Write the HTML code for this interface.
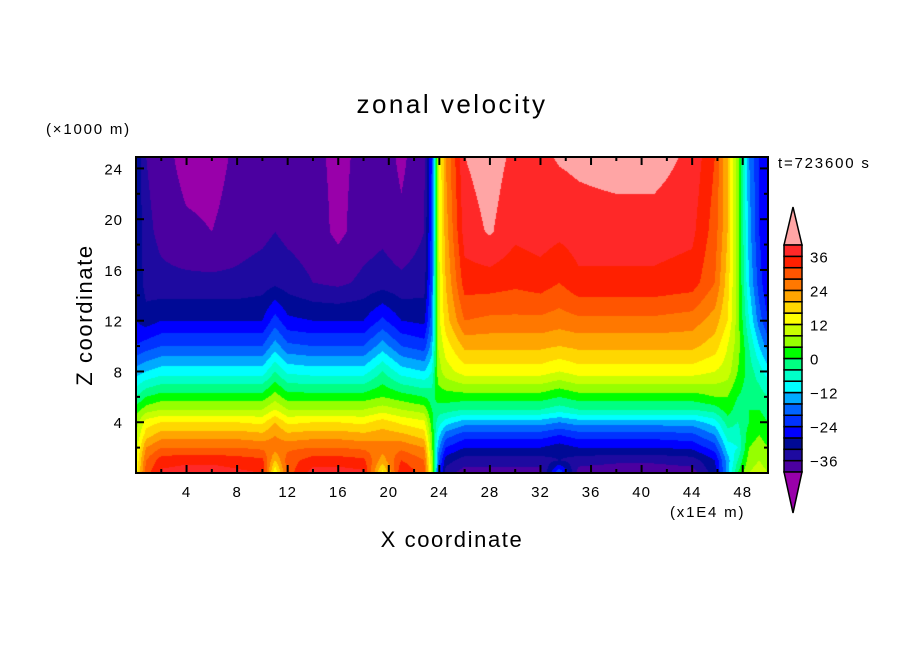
<!DOCTYPE html>
<html><head><meta charset="utf-8"><style>
body{margin:0;background:#fff;width:904px;height:654px;overflow:hidden;position:relative;font-family:"Liberation Sans",sans-serif}
#cv{position:absolute;left:136px;top:157px}
svg{position:absolute;left:0;top:0}
</style></head><body>
<canvas id="cv" width="632" height="316"></canvas>
<svg id="sv" width="904" height="654">
<text x="452" y="113" font-size="26" letter-spacing="2.5" text-anchor="middle">zonal velocity</text>
<text x="46" y="134" font-size="15" letter-spacing="1.8">(×1000 m)</text>
<text x="778" y="168" font-size="15" letter-spacing="1.8">t=723600 s</text>
<text x="670" y="517" font-size="15" letter-spacing="1.8">(x1E4 m)</text>
<text x="452" y="547" font-size="22" letter-spacing="1.6" text-anchor="middle">X coordinate</text>
<text transform="translate(92,315) rotate(-90)" font-size="22" letter-spacing="1.6" text-anchor="middle">Z coordinate</text>
<g id="axes"></g><g id="cbar"></g>
</svg>
<script>
const levels=[-40,-36,-32,-28,-24,-20,-16,-12,-8,-4,0,4,8,12,16,20,24,28,32,36,40];
const colors=["#9900aa","#4b00a0","#1e0aa0","#000a96","#0000ff","#0032ff","#0064ff","#00aaff","#00ffff","#00ffc8","#00ff82","#00ff00","#96ff00","#c8ff00","#ffff00","#ffd700","#ffa500","#ff7800","#ff5500","#ff2000","#ff2828","#ffa5a5"];
const xTicks=[4,8,12,16,20,24,28,32,36,40,44,48];
const zTicks=[4,8,12,16,20,24];
const cbarLabels=[36,24,12,0,-12,-24,-36];
const zs=[0,1,2,3,4,5,6,8,10,12,15,19,25];
const xs=[0,0.8,2,4,6,8,10,11,12,14,16,18,19.5,21,22.8,23.4,23.9,24.5,26,28,30,32,33.5,35,38,41,44,45.8,46.8,47.6,48.5,49.3,50];
const cols=[
[14,12,10,8,6,2,-4,-14,-24,-28,-28,-28,-28],
[30,28,24,18,14,6,0,-12,-22,-30,-34,-35,-36],
[37,34,28,22,16,8,2,-10,-20,-28,-35,-37,-38],
[38,35,28,22,16,8,2,-10,-20,-28,-35,-39,-42],
[38,35,28,22,16,8,2,-10,-20,-28,-35,-40,-42],
[37,34,28,22,16,8,2,-10,-20,-28,-35,-38,-39],
[36,33,27,21,15,8,2,-10,-20,-28,-34,-37,-38],
[12,20,26,24,20,12,6,-4,-14,-22,-33,-36,-38],
[30,30,27,21,15,8,2,-9,-19,-27,-34,-37,-39],
[38,34,28,22,16,8,2,-10,-20,-28,-36,-38,-39],
[38,34,28,22,16,8,2,-10,-20,-28,-37,-41,-41],
[37,33,27,21,15,8,2,-10,-20,-28,-35,-38,-39],
[14,22,26,22,18,10,4,-4,-14,-23,-34,-37,-38],
[36,32,27,21,15,8,2,-10,-20,-28,-35,-39,-41],
[30,28,24,18,13,6,0,-12,-22,-29,-34,-36,-37],
[10,8,6,4,2,0,-2,-8,-14,-18,-20,-22,-24],
[-20,-18,-14,-10,-6,-2,2,6,8,10,10,10,10],
[-34,-30,-24,-18,-10,-2,2,10,14,18,20,22,24],
[-38,-34,-28,-22,-14,-4,2,14,21,28,34,38,40],
[-38,-34,-28,-22,-14,-4,2,14,21,27,34,40.5,42],
[-38,-34,-28,-22,-14,-4,2,14,21,27,33,37,39],
[-38,-34,-28,-22,-14,-4,2,14,21,27,34,38,39],
[-20,-32,-30,-24,-16,-6,0,12,20,26,32,37,40.5],
[-38,-34,-28,-22,-14,-4,2,14,21,27,35,38,41],
[-39,-35,-28,-22,-14,-4,2,14,21,27,35,38,42],
[-39,-35,-28,-22,-14,-4,2,14,21,27,35,38,42],
[-38,-34,-27,-21,-14,-4,2,14,21,26,34,37,39],
[-30,-28,-22,-16,-10,-2,4,12,18,22,28,30,32],
[-14,-14,-10,-6,-2,2,4,10,12,16,18,20,20],
[0,-4,-8,-6,-4,-2,0,4,6,6,6,6,6],
[8,6,4,2,0,0,-2,-2,-4,-8,-12,-14,-16],
[10,8,6,4,2,0,-2,-6,-12,-18,-22,-24,-24],
[8,6,4,2,0,-2,-4,-10,-18,-24,-28,-28,-28]];
const X0=136,X1=768,Y0=157,Y1=473,XMAX=50,ZMAX=24.9;
const sx=x=>X0+(X1-X0)*x/XMAX, sz=z=>Y1-(Y1-Y0)*z/ZMAX;
function idx(a,v){let i=0;while(i<a.length-2&&v>a[i+1])i++;return i;}
function val(x,z){const i=idx(xs,x),j=idx(zs,z);const tx=Math.min(1,Math.max(0,(x-xs[i])/(xs[i+1]-xs[i]))),tz=Math.min(1,Math.max(0,(z-zs[j])/(zs[j+1]-zs[j])));
return (cols[i][j]*(1-tx)+cols[i+1][j]*tx)*(1-tz)+(cols[i][j+1]*(1-tx)+cols[i+1][j+1]*tx)*tz;}
function colorOf(v){let k=0;while(k<levels.length&&v>=levels[k])k++;return colors[k];}
const cv=document.getElementById('cv'),ctx=cv.getContext('2d');
const W=cv.width,H=cv.height;
for(let py=0;py<H;py++)for(let px=0;px<W;px++){
 const x=(px+0.5)/W*XMAX,z=(H-py-0.5)/H*ZMAX;
 ctx.fillStyle=colorOf(val(x,z));ctx.fillRect(px,py,1,1);}
const NS='http://www.w3.org/2000/svg';
function mk(t,a,p){const e=document.createElementNS(NS,t);for(const k in a)e.setAttribute(k,a[k]);p.appendChild(e);return e;}
const ax=document.getElementById('axes');
const frame=mk('rect',{x:X0,y:Y0,width:X1-X0,height:Y1-Y0,fill:'none',stroke:'#000','stroke-width':2},ax);


for(let x=2;x<XMAX;x+=2){const L=x%4?4:8;
 mk('line',{x1:sx(x),x2:sx(x),y1:Y1,y2:Y1-L,stroke:'#000','stroke-width':2},ax);
 mk('line',{x1:sx(x),x2:sx(x),y1:Y0,y2:Y0+L,stroke:'#000','stroke-width':2},ax);}
for(let z=2;z<ZMAX;z+=2){const L=z%4?4:8;
 mk('line',{x1:X0,x2:X0+L,y1:sz(z),y2:sz(z),stroke:'#000','stroke-width':2},ax);
 mk('line',{x1:X1,x2:X1-L,y1:sz(z),y2:sz(z),stroke:'#000','stroke-width':2},ax);}
xTicks.forEach(v=>{const t=mk('text',{x:sx(v),y:497,'font-size':15,'letter-spacing':1,'text-anchor':'middle'},ax);t.textContent=v;
 
 });
zTicks.forEach(v=>{const t=mk('text',{x:123,y:sz(v)+6,'font-size':15,'letter-spacing':1,'text-anchor':'end'},ax);t.textContent=v;
 
 });
const cb=document.getElementById('cbar');
const CX=784,CW=18,CT=245,CB=472,bh=(CB-CT)/20;
const cbTopArrow=mk('polygon',{points:`${CX},${CT} ${CX+CW},${CT} ${CX+CW/2},207`,fill:colors[21],stroke:'#000','stroke-width':1.5},cb);


for(let k=1;k<=20;k++){const r=mk('rect',{x:CX,y:CB-k*bh,width:CW,height:bh,fill:colors[k],stroke:'#000','stroke-width':1.5},cb);
 
 }
const cbBotArrow=mk('polygon',{points:`${CX},${CB} ${CX+CW},${CB} ${CX+CW/2},513`,fill:colors[0],stroke:'#000','stroke-width':1.5},cb);


cbarLabels.forEach(v=>{const y=CB-(v+40)/4*bh;const t=mk('text',{x:810,y:y+6,'font-size':15,'letter-spacing':1},cb);t.textContent=v<0?'−'+(-v):v;
 
 });
</script>
</body></html>
